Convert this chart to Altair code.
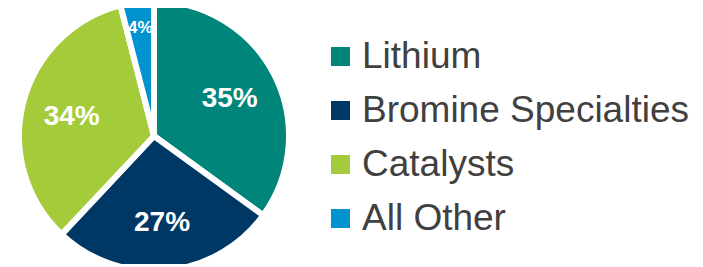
import altair as alt
import pandas as pd

categories = ["Lithium", "Bromine Specialties", "Catalysts", "All Other"]
shares = [35, 27, 34, 4]
labels = ["35%", "27%", "34%", "4%"]
colors = ["#00857A", "#003865", "#A4CC3A", "#0093D0"]

df = pd.DataFrame({
    "category": categories,
    "share": shares,
    "label": labels,
    "idx": list(range(len(categories))),
})

base = alt.Chart(df)

arcs = base.mark_arc(outerRadius=135, stroke="white", strokeWidth=6).encode(
    theta=alt.Theta("share:Q", stack=True),
    color=alt.Color(
        "category:N",
        sort=categories,
        scale=alt.Scale(domain=categories, range=colors),
        legend=alt.Legend(
            title=None,
            orient="none",
            legendX=314,
            legendY=30,
            symbolType="square",
            symbolSize=361,
            symbolStrokeWidth=0,
            labelFontSize=37,
            labelFont="Liberation Sans",
            labelColor="#404040",
            labelLimit=600,
            labelOffset=3,
            rowPadding=16,
            padding=0,
        ),
    ),
    order=alt.Order("idx:Q"),
)

mids = base.transform_window(
    cum="sum(share)", sort=[alt.SortField("idx")], frame=[None, 0]
).transform_calculate(mid="datum.cum - datum.share / 2")

big = mids.transform_filter("datum.share >= 10").mark_text(
    radius=85, dy=2, fontSize=28, fontWeight="bold", color="white", font="Liberation Sans"
).encode(theta=alt.Theta("mid:Q", stack=None), text="label:N")

small = mids.transform_filter("datum.share < 10").mark_text(
    radius=109, fontSize=17, fontWeight="bold", color="white", font="Liberation Sans"
).encode(theta=alt.Theta("mid:Q", stack=None), text="label:N")

chart = alt.layer(arcs, big, small).properties(
    width=292,
    height=256,
    autosize=alt.AutoSizeParams(type="none"),
    padding={"left": 0, "top": 0, "right": 395, "bottom": 0},
).configure_view(stroke=None)

chart.save("out.html", embed_options={"renderer": "svg", "actions": False})
